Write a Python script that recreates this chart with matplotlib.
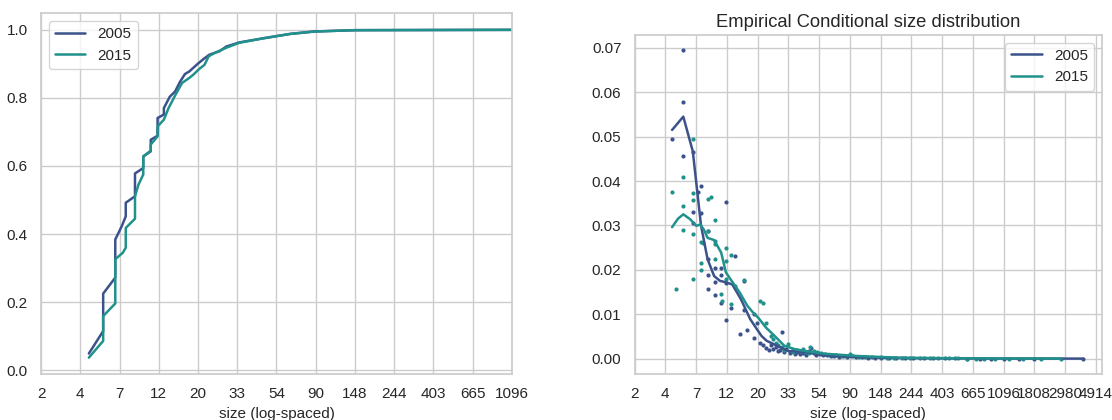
import matplotlib
matplotlib.use("Agg")
import matplotlib.pyplot as plt
import numpy as np
import seaborn as sns

# CDF vertices (size, cumulative share)
cdf_size_05 = [5, 6, 6, 7, 7, 7.6, 8, 8, 9, 9, 10, 10, 11, 11, 12, 12, 13, 13, 14, 15, 16,
               17, 18, 20, 21.3, 23.2, 26.4, 28.8, 34, 46, 65, 88, 148, 1096]
cdf_val_05 = [0.049, 0.115, 0.225, 0.272, 0.384, 0.423, 0.452, 0.492, 0.511, 0.578, 0.594,
              0.628, 0.643, 0.677, 0.689, 0.741, 0.751, 0.770, 0.803, 0.819, 0.848,
              0.870, 0.878, 0.900, 0.912, 0.927, 0.937, 0.951, 0.963, 0.975, 0.988,
              0.995, 0.999, 1.0]
cdf_size_15 = [5, 6, 6, 7, 7, 7.7, 8, 8, 9, 9, 9.4, 10, 10, 11, 11, 12, 12, 13, 13.8, 15.1,
               16.4, 17.9, 18.9, 20.4, 21.8, 23, 24.8, 29, 34, 46, 65, 88, 148, 1096]
cdf_val_15 = [0.037, 0.086, 0.159, 0.196, 0.326, 0.345, 0.36, 0.418, 0.445, 0.511, 0.545,
              0.575, 0.628, 0.645, 0.663, 0.687, 0.716, 0.736, 0.770, 0.810, 0.844,
              0.858, 0.868, 0.885, 0.897, 0.922, 0.932, 0.948, 0.962, 0.975, 0.988,
              0.995, 0.999, 1.0]

# conditional size distribution, scatter (size, share)
pts_size_05 = [5, 6, 6, 6, 7, 8, 7.6, 12, 7, 8, 7, 9, 14, 9, 11, 10, 9, 10, 11, 12, 16, 9,
               10, 11, 13, 16, 12, 15, 19, 19, 20, 17, 30, 21, 22, 23, 24,
               25, 26, 27, 28, 29, 31, 32, 34, 35, 37, 38, 40, 42, 44, 46, 48, 50, 52,
               55, 58, 62, 66, 70, 75, 80, 86, 92, 100, 110, 120, 135, 150, 170, 190,
               220, 250, 300, 350, 420, 500, 600, 750, 900, 1100, 1400, 1800, 4000]
pts_val_05 = [0.0494, 0.0694, 0.0578, 0.0456, 0.0465, 0.0389, 0.0375, 0.0353, 0.0330,
              0.0327, 0.0305, 0.0288, 0.0231, 0.0224, 0.0203, 0.0203, 0.0188, 0.0173,
              0.0189, 0.0170, 0.0175, 0.0156, 0.0143, 0.0125, 0.0115, 0.0110, 0.0086,
              0.0056, 0.0100, 0.0047, 0.0081, 0.0064, 0.0060, 0.0035, 0.0030, 0.0025,
              0.0020, 0.0030, 0.0022, 0.0027, 0.0018, 0.0020, 0.0015, 0.0021, 0.0012,
              0.0016, 0.0011, 0.0014, 0.0010, 0.0013, 0.0009, 0.0018, 0.0024, 0.0012,
              0.0008, 0.0010, 0.0007, 0.0008, 0.0005, 0.0006, 0.0004, 0.0005, 0.0004,
              0.0006, 0.0003, 0.0003, 0.0002, 0.0002, 0.0002, 0.0001, 0.0001, 0.0001,
              0.0001, 0.00005, 0.00005, 0.00003, 0.00003, 0.00002, 0.00002, 0.00001,
              0.00001, 0.00001, 0.0, 0.0]
pts_size_15 = [7, 6, 5, 7, 7, 9, 9.4, 6, 10, 6, 7, 9, 8, 8.2, 10, 10, 12, 13, 12, 10, 8, 8,
               12, 7, 16, 5.3, 11, 14, 11.2, 13, 21, 22, 23, 25, 33, 47,
               26, 27, 28, 30, 31, 35, 36, 38, 40, 42, 44, 46, 50, 53, 56, 60, 64, 68,
               72, 78, 85, 90, 95, 105, 115, 130, 150, 165, 185, 210, 240, 280, 330,
               380, 450, 520, 600, 700, 800, 950, 1200, 1500, 2000, 2800]
pts_val_15 = [0.0495, 0.0409, 0.0376, 0.0372, 0.0357, 0.0359, 0.0363, 0.0344, 0.0312,
              0.0290, 0.0280, 0.0288, 0.0263, 0.0261, 0.0265, 0.0257, 0.0248, 0.0234,
              0.0220, 0.0224, 0.0216, 0.0200, 0.0179, 0.0180, 0.0177, 0.0157, 0.0145,
              0.0164, 0.0130, 0.0122, 0.0130, 0.0125, 0.0081, 0.0050, 0.0032, 0.0026,
              0.0045, 0.0035, 0.0030, 0.0026, 0.0020, 0.0018, 0.0015, 0.0020, 0.0016,
              0.0022, 0.0014, 0.0012, 0.0017, 0.0015, 0.0012, 0.0010, 0.0009, 0.0008,
              0.0007, 0.0006, 0.0005, 0.0010, 0.0005, 0.0004, 0.0004, 0.0003, 0.0003,
              0.0002, 0.0002, 0.0001, 0.0001, 0.0001, 0.00005, 0.00005, 0.00004,
              0.00003, 0.00002, 0.00002, 0.00001, 0.00001, 0.00001, 0.0, 0.0, 0.0]

# smoothed lines (size, share)
line_size_05 = [5, 6, 7, 8, 8.9, 9.9, 10.9, 12, 13.3, 15.3, 17.8, 19.5, 21.4, 23.3, 28, 33,
                44, 52, 68, 95, 150, 250, 500, 1000, 4000]
line_val_05 = [0.0515, 0.0545, 0.0467, 0.0300, 0.0224, 0.0186, 0.0175, 0.0172, 0.0167,
               0.0134, 0.0089, 0.0070, 0.0051, 0.0040, 0.0028, 0.0017, 0.0015, 0.0010,
               0.0006, 0.0004, 0.0002, 0.0001, 0.00005, 0.00002, 0.0]
line_size_15 = [5, 5.5, 6, 6.7, 7.4, 7.9, 8.4, 8.9, 9.9, 11.1, 12, 13.3, 15, 17, 18.5,
                20.3, 23, 26.5, 31, 37, 46, 60, 100, 200, 400, 1000, 2800]
line_val_15 = [0.0296, 0.0315, 0.0325, 0.0314, 0.0299, 0.0302, 0.0290, 0.0272, 0.0267,
               0.0239, 0.0194, 0.0173, 0.0149, 0.0119, 0.0105, 0.0092, 0.0070, 0.0051,
               0.0029, 0.0021, 0.0016, 0.0011, 0.0006, 0.0002, 0.0001, 0.00003, 0.0]

years = ["2005", "2015"]

sns.set_theme(style="whitegrid", context="notebook")
plt.rcParams["font.family"] = ["Liberation Sans", "DejaVu Sans"]
colors = sns.color_palette("viridis", 3)[:2]
lw = 1.8

fig = plt.figure(figsize=(11.12, 4.2), dpi=100)
ax1 = fig.add_axes([0.0369, 0.1095, 0.4235, 0.8585])
ax2 = fig.add_axes([0.5707, 0.1095, 0.4203, 0.807])

# left: cumulative distribution
ax1.plot(np.log(cdf_size_05), cdf_val_05, color=colors[0], lw=lw, label=years[0])
ax1.plot(np.log(cdf_size_15), cdf_val_15, color=colors[1], lw=lw, label=years[1])
t1 = np.arange(1, 7.01, 0.5)
ax1.set_xticks(t1)
ax1.set_xticklabels([str(int(np.exp(t))) for t in t1])
ax1.set_xlim(1, 7)
ax1.set_xlabel("size (log-spaced)", fontsize=11)
ax1.legend(loc="upper left")

# right: conditional size distribution
ax2.scatter(np.log(pts_size_05), pts_val_05, s=9, color=colors[0], linewidths=0)
ax2.scatter(np.log(pts_size_15), pts_val_15, s=9, color=colors[1], linewidths=0)
ax2.plot(np.log(line_size_05), line_val_05, color=colors[0], lw=lw, label=years[0])
ax2.plot(np.log(line_size_15), line_val_15, color=colors[1], lw=lw, label=years[1])
t2 = np.arange(1, 8.51, 0.5)
ax2.set_xticks(t2)
ax2.set_xticklabels([str(int(np.exp(t))) for t in t2])
ax2.set_xlim(1, 8.6)
ax2.set_xlabel("size (log-spaced)", fontsize=11)
ax2.set_title("Empirical Conditional size distribution", fontsize=13.2)
ax2.legend(loc="upper right")

fig.savefig("out.png", dpi=100)
